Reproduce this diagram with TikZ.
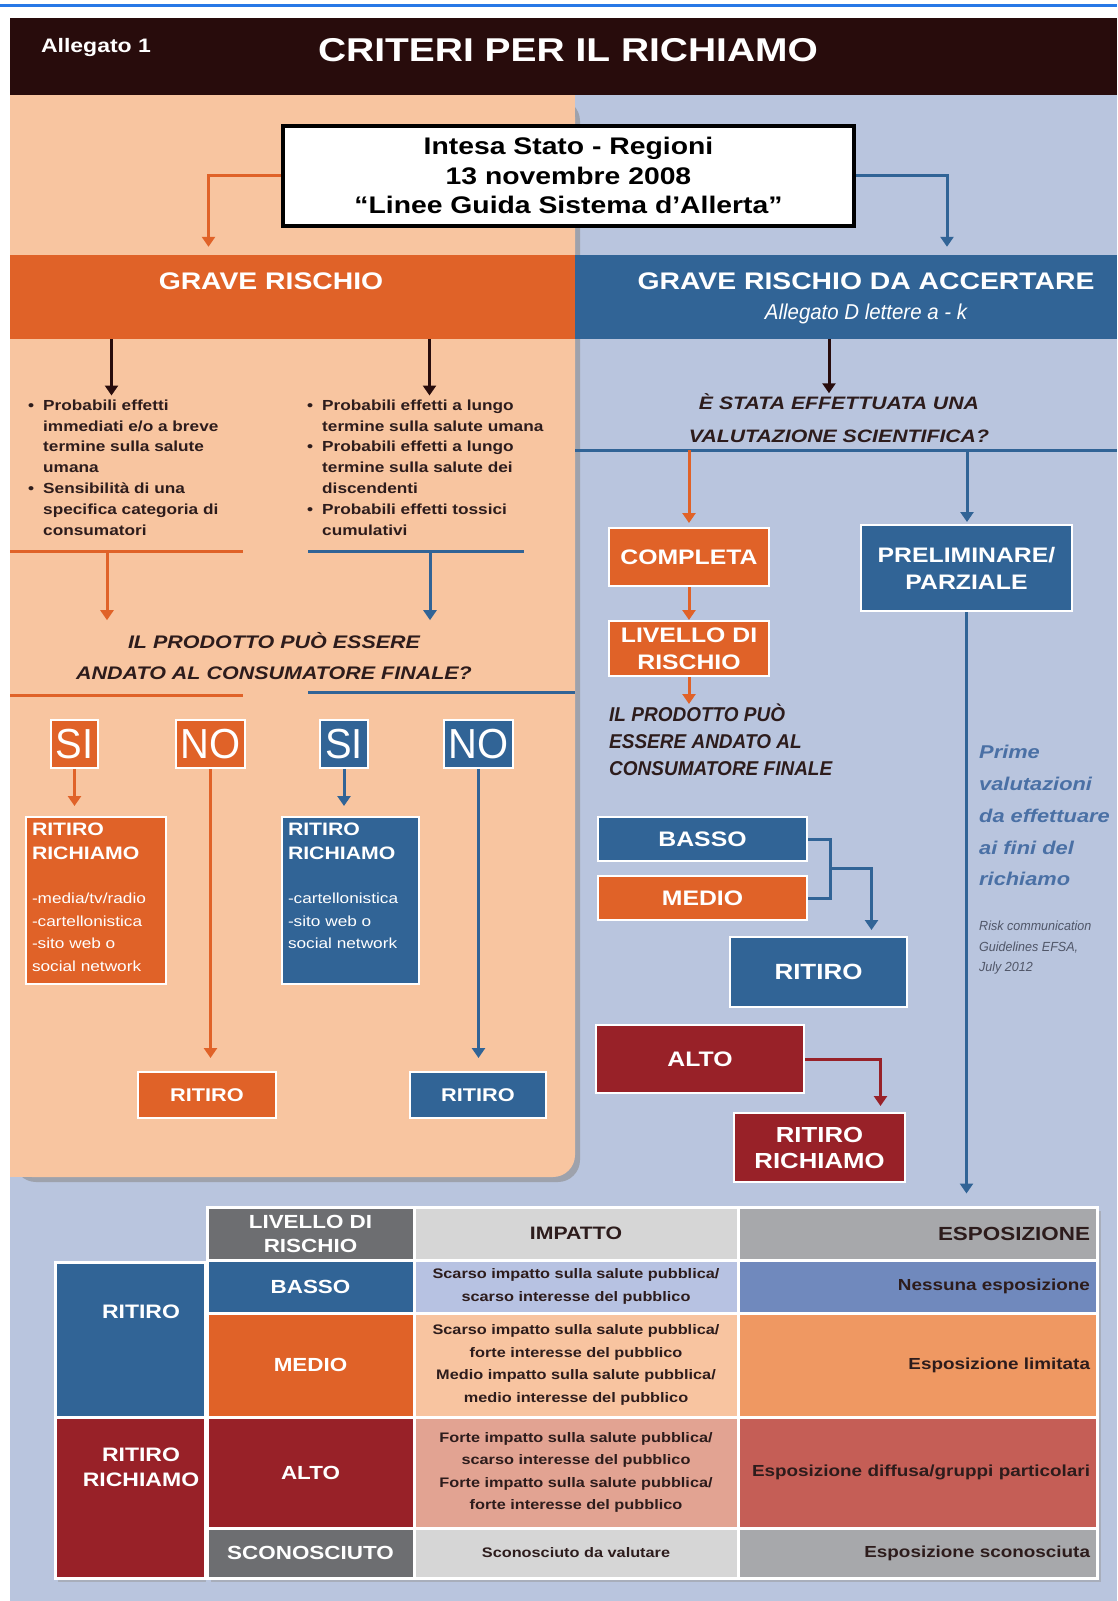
\documentclass[tikz,border=0pt]{standalone}
\usepackage{fontspec}
\setmainfont{Liberation Sans}[FakeStretch=1.18]
\newfontfamily\condfont{Liberation Sans}[FakeStretch=0.95]
\usetikzlibrary{arrows.meta,calc,positioning}

\definecolor{peach}{RGB}{248,197,160}
\definecolor{bgblue}{RGB}{185,197,222}
\definecolor{orng}{RGB}{224,98,40}
\definecolor{blu}{RGB}{49,100,150}
\definecolor{dred}{RGB}{152,33,40}
\definecolor{hdr}{RGB}{40,12,12}
\definecolor{txt}{RGB}{45,28,28}
\definecolor{primeblue}{RGB}{74,112,165}
\definecolor{riskgrey}{RGB}{80,86,104}
\definecolor{topline}{RGB}{40,120,230}
\definecolor{tdark}{RGB}{109,110,113}
\definecolor{tlight}{RGB}{214,214,214}
\definecolor{tmid}{RGB}{167,168,171}
\definecolor{bimp}{RGB}{183,194,226}
\definecolor{besp}{RGB}{112,137,189}
\definecolor{mimp}{RGB}{248,196,160}
\definecolor{mesp}{RGB}{239,152,98}
\definecolor{aimp}{RGB}{226,163,146}
\definecolor{aesp}{RGB}{197,94,86}

\newcommand{\setfs}[2]{\fontsize{#1}{#2}\selectfont}
\newcommand{\bul}{\makebox[15pt][l]{•}}
\newcommand{\ind}{\hspace*{15pt}}

\begin{document}
\begin{tikzpicture}[x=1pt,y=-1pt,
  arr/.style={line width=3pt, -{Triangle[width=13pt,length=10pt]}},
  flowbox/.style={draw=white, line width=2pt, text=white, inner sep=0pt, align=center, font=\bfseries\setfs{21}{27}},
  rrbox/.style={draw=white, line width=2pt, text=white, inner sep=6pt},
  yn/.style={draw=white, line width=1.5pt, text=white, inner sep=0pt, minimum height=48pt, font=\condfont\setfs{42}{42}},
  listtxt/.style={anchor=north west, align=left, inner sep=0pt, text=txt, font=\bfseries\setfs{14.6}{20.8}},
  quest/.style={align=center, inner sep=0pt, text=txt, font=\bfseries\itshape\setfs{18.2}{31}},
  cell/.style={draw=white, line width=3pt, inner sep=0pt, align=center},
  lvl/.style={text=white, font=\bfseries\setfs{19}{24}},
  imp/.style={text=txt, font=\bfseries\setfs{13.8}{22.5}},
  esp/.style={text=txt, align=right, text width=345pt, font=\bfseries\setfs{16}{20}}]

  \useasboundingbox (0,0) rectangle (1117,1601);
  \fill[white] (0,0) rectangle (1117,1601);
  \draw[topline, line width=3pt] (0,5) -- (1117,5);
  \fill[bgblue] (10,95) rectangle (1117,1601);

  \fill[black!45, opacity=.6, rounded corners=22pt] (14,99) rectangle (580,1182);
  \fill[peach, rounded corners=22pt] (10,95) rectangle (575,1177);
  \fill[peach] (10,95) rectangle (575,300);
  \fill[peach] (10,95) rectangle (100,1177);

  \fill[hdr] (10,18) rectangle (1117,95);
  \node[text=white, font=\bfseries\setfs{19.5}{24}] (alleg) at (96,48) {Allegato 1};
  \node[text=white, font=\bfseries\setfs{33}{40}] (crit) at (568,50) {CRITERI PER IL RICHIAMO};

  \node[draw=black, line width=4pt, fill=white, minimum width=571pt, minimum height=100pt,
    align=center, text=black, font=\bfseries\setfs{24}{29.5}] (intesa) at (568.5,175.5)
    {Intesa Stato - Regioni\\13 novembre 2008\\“Linee Guida Sistema d’Allerta”};

  \node[fill=orng, minimum width=565pt, minimum height=84pt, inner sep=0pt] (grave) at (292.5,297) {};
  \node[fill=blu, minimum width=542pt, minimum height=84pt, inner sep=0pt] (accert) at (846,297) {};
  \node[text=white, font=\bfseries\setfs{24}{28}] (gravetxt) at (271,281) {GRAVE RISCHIO};
  \node[text=white, font=\bfseries\setfs{24}{28}] (accerttxt) at (866,281) {GRAVE RISCHIO DA ACCERTARE};
  \node[text=white, font=\condfont\itshape\setfs{21.5}{24}] (allegd) at (866,314) {Allegato D lettere a - k};

  \coordinate (tl) at ([xshift=-84pt]grave.north);
  \coordinate (tr) at ([xshift=101pt]accert.north);
  \draw[arr, orng, shorten >=8pt] (intesa.west) -| (tl);
  \draw[arr, blu, shorten >=8pt] (intesa.east) -| (tr);

  % grave rischio
  \node[listtxt] (leftlist) at (28,399.5) {\bul Probabili effetti\\\ind immediati e/o a breve\\\ind termine sulla salute\\\ind umana\\\bul Sensibilità di una\\\ind specifica categoria di\\\ind consumatori};
  \node[listtxt] (rightlist) at (307,399.5) {\bul Probabili effetti a lungo\\\ind termine sulla salute umana\\\bul Probabili effetti a lungo\\\ind termine sulla salute dei\\\ind discendenti\\\bul Probabili effetti tossici\\\ind cumulativi};

  \coordinate (gl) at ([xshift=-181pt]grave.south);
  \coordinate (gr) at ([xshift=137pt]grave.south);
  \draw[arr, hdr, shorten >=4pt] (gl) -- (gl |- leftlist.north);
  \draw[arr, hdr, shorten >=4pt] (gr) -- (gr |- rightlist.north);

  \draw[orng, line width=3pt] (10,551) -- (243,551);
  \draw[blu, line width=3pt] (308,551) -- (524,551);
  \draw[orng, line width=3pt] (10,695) -- (243,695);
  \draw[blu, line width=3pt] (308,692) -- (575,692);
  \coordinate (dl) at (107,551);
  \coordinate (dr) at (430,551);

  \node[quest] (quest) at (274,656) {IL PRODOTTO PUÒ ESSERE\\ANDATO AL CONSUMATORE FINALE?};
  \draw[arr, orng, shorten >=12pt] (dl) -- (dl |- quest.north);
  \draw[arr, blu, shorten >=12pt] (dr) -- (dr |- quest.north);

  \node[yn, fill=orng, minimum width=47pt] (si1) at (74.5,744) {SI};
  \node[yn, fill=orng, minimum width=69pt] (no1) at (210.5,744) {NO};
  \node[yn, fill=blu, minimum width=48pt] (si2) at (344,744) {SI};
  \node[yn, fill=blu, minimum width=69pt] (no2) at (478.5,744) {NO};

  \node[rrbox, fill=orng] (rr1) at (96,900.5) {\parbox[c][155pt][t]{128pt}{\bfseries\setfs{18}{24}RITIRO\\RICHIAMO\par\vspace{21.5pt}\mdseries\setfs{14.6}{22.5}-media/tv/radio\\-cartellonistica\\-sito web o\\social network}};
  \node[rrbox, fill=blu] (rr2) at (350.5,900.5) {\parbox[c][155pt][t]{125pt}{\bfseries\setfs{18}{24}RITIRO\\RICHIAMO\par\vspace{21.5pt}\mdseries\setfs{14.6}{22.5}-cartellonistica\\-sito web o\\social network}};
  \node[flowbox, fill=orng, minimum width=138pt, minimum height=46pt, font=\bfseries\setfs{18.4}{22}] (rit1) at (207,1095) {RITIRO};
  \node[flowbox, fill=blu, minimum width=136pt, minimum height=46pt, font=\bfseries\setfs{18.4}{22}] (rit2) at (478,1095) {RITIRO};

  \draw[arr, orng, shorten >=10pt] (si1) -- (si1 |- rr1.north);
  \draw[arr, blu, shorten >=10pt] (si2) -- (si2 |- rr2.north);
  \draw[arr, orng, shorten >=13pt] (no1) -- (no1 |- rit1.north);
  \draw[arr, blu, shorten >=13pt] (no2) -- (no2 |- rit2.north);

  % grave rischio da accertare
  \coordinate (ac) at ([xshift=-17pt]accert.south);
  \node[quest, font=\bfseries\itshape\setfs{18}{33}] (valq) at (839,418) {È STATA EFFETTUATA UNA\\VALUTAZIONE SCIENTIFICA?};
  \draw[arr, hdr] (ac) -- (ac |- valq.north);

  \draw[blu, line width=3pt] (575,450) -- (1117,450);
  \coordinate (dc) at (689,450);
  \coordinate (dp) at (967,450);

  \node[flowbox, fill=orng, minimum width=160pt, minimum height=58pt] (compl) at (689,557) {COMPLETA};
  \node[flowbox, fill=blu, minimum width=211pt, minimum height=86pt] (prelim) at (966.5,568) {PRELIMINARE/\\PARZIALE};
  \node[flowbox, fill=orng, minimum width=160pt, minimum height=55pt] (livello) at (689,648.5) {LIVELLO DI\\RISCHIO};
  \node[anchor=north west, align=left, inner sep=0pt, text=txt, font=\condfont\bfseries\itshape\setfs{20}{27}] (prodq) at (609,704) {IL PRODOTTO PUÒ\\ESSERE ANDATO AL\\CONSUMATORE FINALE};

  \draw[arr, orng, shorten >=4pt] (dc) -- (dc |- compl.north);
  \draw[arr, blu, shorten >=2pt] (dp) -- (dp |- prelim.north);
  \draw[arr, orng] (compl) -- (livello);
  \draw[arr, orng] (livello) -- (livello |- prodq.north);

  \node[anchor=north west, align=left, inner sep=0pt, text=primeblue, font=\bfseries\itshape\setfs{18.5}{31.8}] (prime) at (979,745) {Prime\\valutazioni\\da effettuare\\ai fini del\\richiamo};
  \node[anchor=north west, align=left, inner sep=0pt, text=riskgrey, font=\condfont\itshape\setfs{13.2}{20.5}] (risk) at (979,921) {Risk communication\\Guidelines EFSA,\\July 2012};

  \node[flowbox, fill=blu, minimum width=209pt, minimum height=44pt] (basso) at (702.5,839) {BASSO};
  \node[flowbox, fill=orng, minimum width=209pt, minimum height=44pt] (medio) at (702.5,898) {MEDIO};
  \node[flowbox, fill=blu, minimum width=177pt, minimum height=70pt, font=\bfseries\setfs{22}{27}] (ritiro) at (818.5,972) {RITIRO};
  \node[flowbox, fill=dred, minimum width=208pt, minimum height=68pt] (alto) at (700,1059) {ALTO};
  \node[flowbox, fill=dred, minimum width=171pt, minimum height=69pt, font=\bfseries\setfs{21.8}{26}] (ritric) at (819.5,1147.5) {RITIRO\\RICHIAMO};

  \coordinate (brk) at ($(basso.east)!.5!(medio.east)+(22pt,0)$);
  \coordinate (rt) at ([xshift=53pt]ritiro.north);
  \coordinate (rr) at ([xshift=61pt]ritric.north);
  \draw[blu, line width=3pt] (basso.east) -| (brk) |- (medio.east);
  \draw[arr, blu, shorten >=6pt] (brk) -| (rt);
  \draw[arr, dred, shorten >=6pt] (alto.east) -| (rr);

  % tabella
  \fill[black!40, opacity=.5] (211,1211) rectangle (1101,1582);
  \fill[black!40, opacity=.5] (58,1266) rectangle (206,1582);

  \node[cell, fill=tdark, minimum width=207pt, minimum height=53pt, lvl] (livhd) at (310.5,1233.5) {LIVELLO DI\\RISCHIO};
  \node[cell, fill=tlight, minimum width=324pt, minimum height=53pt, text=txt, font=\bfseries\setfs{18}{22}] (imphd) at (576,1233.5) {IMPATTO};
  \node[cell, fill=tmid, minimum width=359pt, minimum height=53pt, esp, font=\bfseries\setfs{19}{22}] (esphd) at (917.5,1233.5) {ESPOSIZIONE};

  \node[cell, fill=blu, minimum width=207pt, minimum height=53pt, lvl] (bas) at (310.5,1286.5) {BASSO};
  \node[cell, fill=bimp, minimum width=324pt, minimum height=53pt, imp] (basimp) at (576,1286.5) {Scarso impatto sulla salute pubblica/\\scarso interesse del pubblico};
  \node[cell, fill=besp, minimum width=359pt, minimum height=53pt, esp] (basesp) at (917.5,1286.5) {Nessuna esposizione};

  \node[cell, fill=orng, minimum width=207pt, minimum height=104pt, lvl] (med) at (310.5,1365) {MEDIO};
  \node[cell, fill=mimp, minimum width=324pt, minimum height=104pt, imp] (medimp) at (576,1365) {Scarso impatto sulla salute pubblica/\\forte interesse del pubblico\\Medio impatto sulla salute pubblica/\\medio interesse del pubblico};
  \node[cell, fill=mesp, minimum width=359pt, minimum height=104pt, esp] (medesp) at (917.5,1365) {Esposizione limitata};

  \node[cell, fill=dred, minimum width=207pt, minimum height=111pt, lvl] (alt) at (310.5,1472.5) {ALTO};
  \node[cell, fill=aimp, minimum width=324pt, minimum height=111pt, imp] (altimp) at (576,1472.5) {Forte impatto sulla salute pubblica/\\scarso interesse del pubblico\\Forte impatto sulla salute pubblica/\\forte interesse del pubblico};
  \node[cell, fill=aesp, minimum width=359pt, minimum height=111pt, esp] (altesp) at (917.5,1472.5) {Esposizione diffusa/gruppi particolari};

  \node[cell, fill=tdark, minimum width=207pt, minimum height=50pt, lvl] (sco) at (310.5,1553) {SCONOSCIUTO};
  \node[cell, fill=tlight, minimum width=324pt, minimum height=50pt, imp] (scoimp) at (576,1553) {Sconosciuto da valutare};
  \node[cell, fill=tmid, minimum width=359pt, minimum height=50pt, esp] (scoesp) at (917.5,1553) {Esposizione sconosciuta};

  \node[cell, fill=blu, minimum width=150pt, minimum height=155pt] (lrit) at (130,1339.5) {};
  \node[cell, fill=dred, minimum width=150pt, minimum height=161pt] (lrr) at (130,1497.5) {};
  \node[lvl, font=\bfseries\setfs{19.5}{25}] (lrittxt) at (141,1312) {RITIRO};
  \node[lvl, align=center, font=\bfseries\setfs{19.5}{25}] (lrrtxt) at (141,1467) {RITIRO\\RICHIAMO};

  \draw[arr, blu, shorten >=12pt] (prelim) -- (prelim |- esphd.north);
\end{tikzpicture}
\end{document}
